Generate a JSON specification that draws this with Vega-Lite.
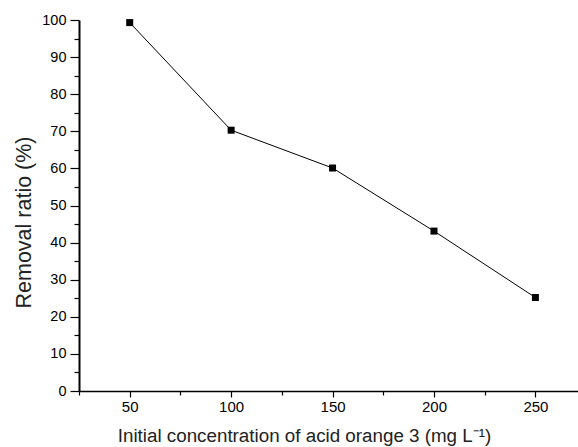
{
  "$schema": "https://vega.github.io/schema/vega-lite/v6.json",
  "width": 499,
  "height": 371,
  "autosize": {"type": "none"},
  "padding": {"left": 79, "top": 20, "right": 0, "bottom": 56},
  "background": "white",
  "config": {
    "view": {"stroke": null},
    "font": "Liberation Sans",
    "axis": {"grid": false, "domainColor": "black", "tickColor": "black", "labelColor": "black", "titleColor": "#222222", "labelFont": "Liberation Sans", "titleFont": "Liberation Sans", "titleFontWeight": "normal"}
  },
  "data": {"values": [
    {"conc": 50, "ratio": 99.3},
    {"conc": 100, "ratio": 70.3},
    {"conc": 150, "ratio": 60.1},
    {"conc": 200, "ratio": 43.1},
    {"conc": 250, "ratio": 25.2}
  ]},
  "resolve": {"axis": {"x": "independent", "y": "independent"}},
  "layer": [
    {
      "mark": {"type": "line", "color": "black", "strokeWidth": 1},
      "encoding": {
        "x": {"field": "conc", "type": "quantitative", "scale": {"domain": [25, 271], "nice": false, "zero": false},
          "axis": {"orient": "bottom", "values": [50, 100, 150, 200, 250], "tickSize": 6, "tickWidth": 1.2, "domainWidth": 1.5, "labelFontSize": 15, "labelPadding": 2, "title": "Initial concentration of acid orange 3 (mg L⁻¹)", "titleFontSize": 18.8, "titleX": 225, "titleY": 50.5, "titleBaseline": "alphabetic", "titleAnchor": "middle", "titleAlign": "center"}},
        "y": {"field": "ratio", "type": "quantitative", "scale": {"domain": [0, 100], "nice": false},
          "axis": {"orient": "left", "values": [0, 10, 20, 30, 40, 50, 60, 70, 80, 90, 100], "tickSize": 9, "tickWidth": 1.2, "domainWidth": 2, "labelFontSize": 14.5, "labelPadding": 4, "title": "Removal ratio (%)", "titleFontSize": 21.5, "titlePadding": 6, "titleY": 202}}
      }
    },
    {
      "mark": {"type": "square", "color": "black", "opacity": 1, "size": 49, "filled": true},
      "encoding": {
        "x": {"field": "conc", "type": "quantitative", "scale": {"domain": [25, 271], "nice": false, "zero": false},
          "axis": {"orient": "bottom", "values": [25, 75, 125, 175, 225, 275], "tickSize": 4, "tickWidth": 1.2, "domain": false, "labels": false, "title": null}},
        "y": {"field": "ratio", "type": "quantitative", "scale": {"domain": [0, 100], "nice": false},
          "axis": {"orient": "left", "values": [5, 15, 25, 35, 45, 55, 65, 75, 85, 95], "tickSize": 5, "tickWidth": 1.2, "domain": false, "labels": false, "title": null}}
      }
    }
  ]
}
